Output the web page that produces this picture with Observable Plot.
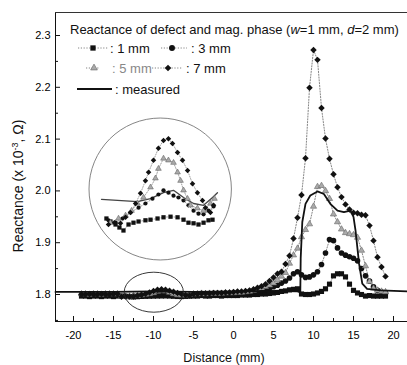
<!DOCTYPE html>
<html><head><meta charset="utf-8">
<script src="https://cdn.jsdelivr.net/npm/d3@7"></script>
<script src="https://cdn.jsdelivr.net/npm/@observablehq/plot@0.6"></script>
<style>
html,body{margin:0;padding:0;background:#fff;}
#wrap{position:relative;width:407px;height:365px;overflow:hidden;}
#wrap svg{position:absolute;left:0;top:0;}
</style>
</head><body><div id="wrap"></div>
<script>
// ---- sampling grid (mm) for the simulated series ----
const gridX = [-19,-18.5,-18,-17.5,-17,-16.5,-16,-15.5,-15,-14.5,-14,-13.5,-13,-12.5,-12,-11.5,-11,-10.5,-10,-9.5,-9,-8.5,-8,-7.5,-7,-6.5,-6,-5.5,-5,-4.5,-4,-3.5,-3,-2.5,-2,-1.5,-1,-0.5,0,0.5,1,1.5,2,2.5,3,3.5,4,4.5,5,5.5,6,6.5,7,7.5,8,8.5,9,9.5,10,10.5,11,11.5,12,12.5,13,13.5,14,14.5,15,15.5,16,16.5,17,17.5,18,18.5,19];

const sim1mm = [1.797,1.797,1.796,1.797,1.797,1.796,1.797,1.797,1.796,1.797,
 1.7968,1.7966,1.796,1.7953,1.7958,1.7963,1.7965,1.7967,1.7969,1.7971,1.7972,1.7973,1.7971,1.7966,1.7962,1.796,1.7965,1.7968,
 1.797,1.797,1.798,1.797,1.797,1.798,1.798,1.797,1.798,1.798,
 1.798,1.798,1.799,1.799,1.799,1.800,1.800,1.801,1.801,1.802,1.803,1.804,1.806,1.807,1.809,1.810,1.811,1.801,1.800,1.800,1.801,1.803,1.806,1.811,1.820,1.836,1.840,1.840,1.834,1.820,1.808,1.803,1.800,1.797,1.798,1.797,1.797,1.797,1.797];

const sim3mm = [1.800,1.799,1.800,1.800,1.799,1.800,1.800,1.799,1.800,1.800,
 1.7965,1.7967,1.7963,1.7968,1.7975,1.7983,1.799,1.7997,1.8004,1.8012,1.8016,1.8008,1.8004,1.7997,1.7985,1.7978,1.7978,1.7987,
 1.800,1.800,1.800,1.801,1.800,1.800,1.801,1.801,1.801,1.802,
 1.802,1.802,1.803,1.803,1.804,1.805,1.806,1.808,1.810,1.812,1.815,1.818,1.822,1.826,1.832,1.840,1.844,1.838,1.833,1.834,1.838,1.844,1.858,1.880,1.906,1.904,1.890,1.880,1.876,1.873,1.870,1.865,1.850,1.836,1.826,1.815,1.808,1.805,1.803];

const sim5mm = [1.801,1.801,1.800,1.801,1.801,1.800,1.801,1.801,1.801,1.801,
 1.7962,1.7963,1.7966,1.7972,1.7977,1.7986,1.7999,1.8012,1.803,1.8058,1.8069,1.8064,1.804,1.801,1.799,1.7986,1.7985,1.7997,
 1.801,1.801,1.802,1.801,1.802,1.802,1.802,1.802,1.803,1.803,
 1.803,1.804,1.804,1.805,1.806,1.808,1.810,1.812,1.815,1.818,1.822,1.828,1.835,1.842,1.860,1.876,1.889,1.911,1.925,1.936,1.970,2.008,2.010,2.000,1.985,1.955,1.940,1.926,1.919,1.917,1.915,1.910,1.885,1.855,1.825,1.812,1.808,1.806,1.805];

const sim7mm = [1.800,1.800,1.801,1.800,1.800,1.801,1.800,1.800,1.801,1.801,
 1.7958,1.796,1.7963,1.7963,1.7975,1.799,1.8012,1.804,1.8067,1.8092,1.8102,1.8094,1.8075,1.8055,1.8028,1.8008,1.7988,1.7982,
 1.801,1.801,1.802,1.802,1.802,1.803,1.803,1.803,1.804,1.804,
 1.805,1.806,1.806,1.807,1.808,1.810,1.813,1.816,1.820,1.826,1.833,1.840,1.844,1.859,1.875,1.908,1.948,1.992,2.063,2.199,2.272,2.253,2.160,2.101,2.062,2.032,2.007,1.988,1.974,1.964,1.958,1.957,1.954,1.953,1.933,1.904,1.872,1.853,1.835];

const measX = [-22.25,-15,-10,-5,0,4,8,8.35,8.4,8.6,9.0,9.6,10.5,11.3,12.1,13.0,13.8,14.6,15.0,15.25,15.7,16.1,16.7,18.4,21.75];
const measY = [1.805,1.805,1.806,1.805,1.806,1.807,1.806,1.804,1.87,1.94,1.975,1.991,1.999,1.994,1.975,1.962,1.959,1.962,1.950,1.924,1.859,1.821,1.811,1.808,1.806];

// ---- magnified inset (region around -10 mm) ----
const in1X = [-13.62,-13.31,-12.92,-12.62,-12.31,-11.92,-11.54,-11.15,-10.62,-10.23,-9.69,-9.23,-8.69,-8.15,-7.69,-7.31,-6.92,-6.54,-6.15,-5.77,-5.46];
const in1Y = [1.797,1.7965,1.796,1.7955,1.795,1.796,1.7963,1.7965,1.7967,1.7968,1.797,1.7972,1.7973,1.7972,1.7968,1.7963,1.7962,1.796,1.7963,1.7967,1.7968];
const in3X = [-13.46,-12.92,-12.38,-11.77,-11.15,-10.62,-10.08,-9.62,-9.23,-8.85,-8.46,-8.08,-7.69,-7.31,-6.92,-6.54,-6.15,-5.77,-5.38];
const in3Y = [1.7967,1.7963,1.797,1.798,1.7988,1.7995,1.8003,1.801,1.8017,1.8013,1.8008,1.8005,1.8,1.7992,1.7983,1.7978,1.7977,1.7983,1.799];
const in5X = [-13.31,-12.69,-12.15,-11.69,-11.23,-10.77,-10.23,-9.85,-9.62,-9.23,-8.85,-8.46,-8.15,-7.92,-7.69,-7.38,-7.15,-6.62,-6.15,-5.62,-5.31];
const in5Y = [1.7963,1.797,1.7975,1.7983,1.7995,1.8005,1.8022,1.8037,1.8053,1.807,1.8067,1.8063,1.8047,1.8033,1.8017,1.8003,1.7992,1.7987,1.7983,1.7995,1.8003];
const in7X = [-13.46,-13.0,-12.54,-12.15,-11.77,-11.38,-11.0,-10.62,-10.38,-10.0,-9.62,-9.23,-8.85,-8.54,-8.15,-7.77,-7.38,-7.0,-6.62,-6.23,-6.0,-5.62,-5.38];
const in7Y = [1.796,1.7963,1.7962,1.7972,1.798,1.7995,1.8012,1.8033,1.8047,1.8067,1.8087,1.81,1.8103,1.8095,1.808,1.8067,1.805,1.8028,1.8013,1.8,1.7988,1.798,1.7992];
const inMX = [-14,-11.23,-10.23,-9.23,-8.46,-7.69,-6.92,-6.15,-5.46,-5.08];
const inMY = [1.8002,1.7998,1.8003,1.8013,1.8017,1.8005,1.7995,1.7992,1.8005,1.8013];

// ---- ticks & annotations ----
const xMajor = [-20,-15,-10,-5,0,5,10,15,20];
const xMinor = [-17.5,-12.5,-7.5,-2.5,2.5,7.5,12.5,17.5];
const yMajor = [1.8,1.9,2.0,2.1,2.2,2.3];
const yMinor = [1.75,1.85,1.95,2.05,2.15,2.25];
const xDom = [-22.25, 21.75];
const yDom = [1.7479, 2.3444];
// ellipses in data units: [cx, cy, rx(mm), ry(reactance)]
const bigCircle = [-9.1, 2.0027, 8.9, 0.137];
const smallEllipse = [-9.9, 1.8035, 3.7, 0.0386];

const FONT = "'Liberation Sans', Arial, sans-serif";
const toRows = (xs, ys, s) => xs.map((x, i) => ({x, y: ys[i], s}));
const d1 = toRows(gridX, sim1mm, "1 mm");
const d3m = toRows(gridX, sim3mm, "3 mm");
const d5 = toRows(gridX, sim5mm, "5 mm");
const d7 = toRows(gridX, sim7mm, "7 mm");
const dm = toRows(measX, measY, "measured");

const chart = Plot.plot({
  width: 407, height: 365,
  marginLeft: 55, marginRight: 0, marginTop: 12, marginBottom: 44,
  x: {domain: xDom},
  y: {domain: yDom},
  style: {fontFamily: FONT, fontSize: "11px", color: "#000", background: "transparent"},
  marks: [
    Plot.line([...d1, ...d3m, ...d5, ...d7], {x: "x", y: "y", z: "s", stroke: "#666", strokeWidth: 0.8, strokeDasharray: "1.2,1.6"}),
    Plot.dot(d1, {x: "x", y: "y", symbol: "square", r: 2.9, fill: "#111", stroke: "none"}),
    Plot.dot(d3m, {x: "x", y: "y", symbol: "circle", r: 2.8, fill: "#111", stroke: "none"}),
    Plot.dot(d5, {x: "x", y: "y", symbol: "triangle", r: 2.3, fill: "#aaa", stroke: "#666", strokeWidth: 0.6}),
    Plot.dot(d7, {x: "x", y: "y", symbol: "diamond2", r: 2.9, fill: "#111", stroke: "none"}),
    Plot.line(dm, {x: "x", y: "y", stroke: "#111", strokeWidth: 1.8}),
    Plot.ruleX([xDom[0]], {stroke: "#111", strokeWidth: 1}),
    Plot.ruleY([yDom[0]], {stroke: "#111", strokeWidth: 1}),
    Plot.ruleY([yDom[1]], {stroke: "#333", strokeWidth: 1}),
    // inward tick marks
    Plot.ruleX(xMajor, {y1: yDom[0], y2: yDom[0], insetTop: -5, stroke: "#111"}),
    Plot.ruleX(xMinor, {y1: yDom[0], y2: yDom[0], insetTop: -3, stroke: "#111"}),
    Plot.ruleY(yMajor, {x1: xDom[0], x2: xDom[0], insetRight: -5, stroke: "#111"}),
    Plot.ruleY(yMinor, {x1: xDom[0], x2: xDom[0], insetRight: -3, stroke: "#111"}),
    Plot.axisX(xMajor, {tickSize: 0, tickPadding: 10, tickFormat: d => String(d), label: null, fontSize: 11}),
    Plot.axisY(yMajor, {tickSize: 0, tickPadding: 5, tickFormat: d => d.toFixed(1), label: null, fontSize: 11})
  ]
});

const wrap = document.getElementById("wrap");
wrap.appendChild(chart);

const sx = chart.scale("x"), sy = chart.scale("y");
const svg = d3.select(chart);

// annotation ellipses
function ell(e, color) {
  const cx = sx.apply(e[0]), cy = sy.apply(e[1]);
  const rx = Math.abs(sx.apply(e[0] + e[2]) - cx), ry = Math.abs(sy.apply(e[1] + e[3]) - cy);
  svg.append("ellipse").attr("cx", cx).attr("cy", cy).attr("rx", rx).attr("ry", ry)
    .attr("fill", "none").attr("stroke", color).attr("stroke-width", 0.9);
}
ell(bigCircle, "#777");
ell(smallEllipse, "#222");

// axis titles
svg.append("text").attr("x", 224).attr("y", 362).attr("text-anchor", "middle")
  .attr("font-family", FONT).attr("font-size", 12.5).attr("fill", "#111").text("Distance (mm)");
const yt = svg.append("text").attr("transform", "translate(23,186) rotate(-90)").attr("text-anchor", "middle")
  .attr("font-family", FONT).attr("font-size", 14).attr("fill", "#111");
yt.append("tspan").text("Reactance (x 10");
yt.append("tspan").attr("dy", -5).attr("font-size", 9).text("-3");
yt.append("tspan").attr("dy", 5).text(", \u03A9)");

// legend
const lg = svg.append("g").attr("font-family", FONT).attr("font-size", 13).attr("fill", "#111").attr("text-anchor", "start");
const title = lg.append("text").attr("x", 70).attr("y", 34).attr("text-anchor", "start");
title.append("tspan").text("Reactance of defect and mag. phase (");
title.append("tspan").attr("font-style", "italic").text("w");
title.append("tspan").text("=1 mm, ");
title.append("tspan").attr("font-style", "italic").text("d");
title.append("tspan").text("=2 mm)");
function legItem(x1, x2, mx, y, type, label, tx, fill, stroke, solid, textColor) {
  lg.append("line").attr("x1", x1).attr("x2", x2).attr("y1", y).attr("y2", y)
    .attr("stroke", solid ? "#111" : "#666").attr("stroke-width", solid ? 2 : 0.8)
    .attr("stroke-dasharray", solid ? null : "1.2,1.6");
  if (type) lg.append("path").attr("transform", `translate(${mx},${y})`)
    .attr("d", d3.symbol(type, type === d3.symbolTriangle ? 20 : 28)()).attr("fill", fill)
    .attr("stroke", stroke || "none").attr("stroke-width", 0.6);
  lg.append("text").attr("x", tx).attr("y", y + 4.5).attr("text-anchor", "start").attr("fill", textColor || "#111").text(label);
}
legItem(78, 108, 93, 48, d3.symbolSquare, ": 1 mm", 110, "#111");
legItem(161, 187, 172, 48, d3.symbolCircle, ": 3 mm", 191, "#111");
legItem(86, 100, 94, 68, d3.symbolTriangle, ": 5 mm", 112, "#aaa", "#666", false, "#888");
legItem(152, 182, 168, 68, d3.symbolDiamond2, ": 7 mm", 186, "#111");
legItem(77, 112, null, 89, null, ": measured", 115, null, null, true);

// inset plot (magnified view)
const r1 = toRows(in1X, in1Y, "1"), r3 = toRows(in3X, in3Y, "3"), r5 = toRows(in5X, in5Y, "5"), r7 = toRows(in7X, in7Y, "7"), rm = toRows(inMX, inMY, "m");
const inset = Plot.plot({
  width: 137, height: 110, margin: 10,
  x: {domain: [-14, -5]}, y: {domain: [1.795, 1.81]},
  axis: null,
  style: {background: "transparent", overflow: "visible"},
  marks: [
    Plot.line([...r1, ...r3, ...r5, ...r7], {x: "x", y: "y", z: "s", stroke: "#777", strokeWidth: 0.7, strokeDasharray: "1,1.5"}),
    Plot.line(rm, {x: "x", y: "y", stroke: "#444", strokeWidth: 1.3}),
    Plot.dot(r1, {x: "x", y: "y", symbol: "square", r: 2.4, fill: "#111", stroke: "none"}),
    Plot.dot(r3, {x: "x", y: "y", symbol: "circle", r: 2.1, fill: "#111", stroke: "none"}),
    Plot.dot(r5, {x: "x", y: "y", symbol: "triangle", r: 2.1, fill: "#aaa", stroke: "#666", strokeWidth: 0.6}),
    Plot.dot(r7, {x: "x", y: "y", symbol: "diamond2", r: 2.5, fill: "#111", stroke: "none"})
  ]
});
inset.style.left = "91px";
inset.style.top = "130px";
wrap.appendChild(inset);
</script>
</body></html>
